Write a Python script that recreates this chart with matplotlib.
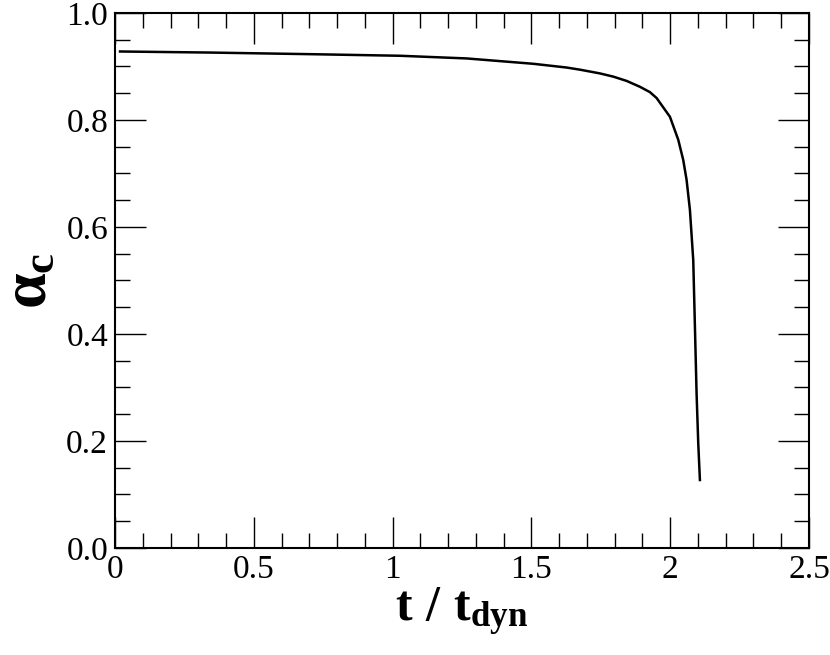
import matplotlib
matplotlib.use("Agg")
import matplotlib.pyplot as plt
from matplotlib.ticker import MultipleLocator, FuncFormatter, FormatStrFormatter

# values
t_dyn = [0.018, 0.342, 0.702, 1.027, 1.267, 1.507, 1.627, 1.675, 1.747, 1.795,
         1.843, 1.891, 1.927, 1.951, 1.999, 2.029, 2.047, 2.059, 2.071, 2.083,
         2.089, 2.095, 2.101, 2.107]
alpha_c = [0.928, 0.926, 0.923, 0.920, 0.915, 0.905, 0.898, 0.894, 0.887, 0.881,
           0.873, 0.862, 0.852, 0.841, 0.806, 0.763, 0.725, 0.688, 0.632, 0.538,
           0.414, 0.289, 0.196, 0.127]

plt.rcParams['font.family'] = ['Liberation Serif', 'DejaVu Serif']
plt.rcParams['mathtext.fontset'] = 'custom'
plt.rcParams['mathtext.rm'] = 'Liberation Serif:bold'
plt.rcParams['mathtext.it'] = 'Liberation Serif:bold'
plt.rcParams['mathtext.bf'] = 'Liberation Serif:bold'

fig = plt.figure(figsize=(8.3, 6.55), dpi=100)
ax = fig.add_axes([0.1386, 0.1634, 0.8361, 0.8168])

ax.plot(t_dyn, alpha_c, color='black', lw=1.8, solid_joinstyle='round')

ax.set_xlim(0, 2.5)
ax.set_ylim(0, 1.0)
ax.xaxis.set_major_locator(MultipleLocator(0.5))
ax.xaxis.set_minor_locator(MultipleLocator(0.1))
ax.yaxis.set_major_locator(MultipleLocator(0.2))
ax.yaxis.set_minor_locator(MultipleLocator(0.05))
ax.xaxis.set_major_formatter(FuncFormatter(lambda v, p: f"{v:g}"))
ax.yaxis.set_major_formatter(FormatStrFormatter('%.1f'))

ax.tick_params(which='both', direction='in', top=True, right=True, width=1.0)
ax.tick_params(which='major', length=22, labelsize=24, pad=5)
ax.tick_params(which='minor', length=11)
for s in ax.spines.values():
    s.set_linewidth(1.5)

ax.set_xlabel(r'$\mathrm{t\ /\ t_{dyn}}$', fontsize=36, labelpad=0)
ax.set_ylabel(r'$\alpha_{c}$', fontsize=46, labelpad=4)

fig.savefig('out.png', dpi=100)
